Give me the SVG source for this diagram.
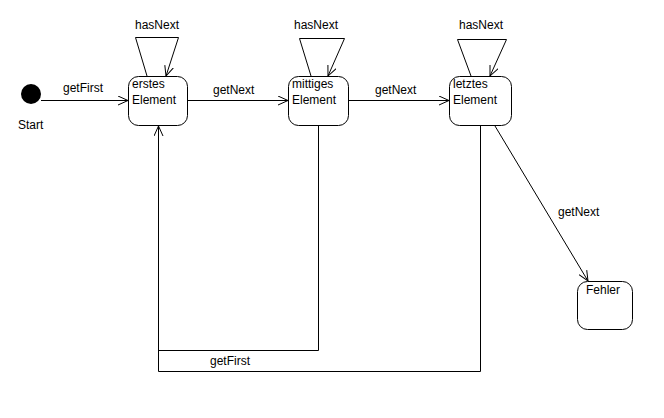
<svg xmlns="http://www.w3.org/2000/svg" width="664" height="418" viewBox="0 0 664 418">
<defs>
<marker id="open" viewBox="0 0 10 10" refX="10" refY="5" markerWidth="10" markerHeight="10" markerUnits="userSpaceOnUse" orient="auto">
<path d="M0,0.5 L10,5 L0,9.5" fill="none" stroke="#000" stroke-width="1"/>
</marker>
</defs>
<style>
.node{fill:#fff;stroke:#000;stroke-width:1}
.edge{fill:none;stroke:#000;stroke-width:1}
.arr{marker-end:url(#open)}
text{font-family:"Liberation Sans",Arial,sans-serif;font-size:12px;fill:#000}
</style>
<rect width="664" height="418" fill="#fff"/>
<g id="connectors">
<path class="edge arr" d="M41,100.5 L128,100.5"/>
<path class="edge arr" d="M187,100.5 L288,100.5"/>
<path class="edge arr" d="M348,100.5 L449,100.5"/>
<path class="edge arr" d="M147,76 L135.5,37.5 L178.5,37.5 L166,76"/>
<path class="edge arr" d="M311,76 L299.5,38.5 L344.5,38.5 L328,76"/>
<path class="edge arr" d="M471,76 L457.5,39.5 L506.5,39.5 L490,76"/>
<path class="edge" d="M318.5,126 L318.5,350.5 L158.5,350.5"/>
<path class="edge arr" d="M480.5,126 L480.5,371.5 L158.5,371.5 L158.5,126"/>
<path class="edge arr" d="M495,126 L588,281"/>
<text x="157" y="29" text-anchor="middle">hasNext</text>
<text x="316" y="29" text-anchor="middle">hasNext</text>
<text x="481" y="29" text-anchor="middle">hasNext</text>
<text x="63" y="92">getFirst</text>
<text x="213" y="94">getNext</text>
<text x="375" y="94">getNext</text>
<text x="558" y="216">getNext</text>
<text x="210" y="365">getFirst</text>
</g>
<g id="start">
<circle cx="31" cy="94" r="10" fill="#000"/>
<text x="18" y="129">Start</text>
</g>
<g id="erstes">
<rect class="node" x="128.5" y="76.5" width="59" height="49" rx="10"/>
<text x="132" y="88">erstes</text>
<text x="132" y="104">Element</text>
</g>
<g id="mittiges">
<rect class="node" x="288.5" y="76.5" width="60" height="49" rx="10"/>
<text x="292" y="88">mittiges</text>
<text x="292" y="104">Element</text>
</g>
<g id="letztes">
<rect class="node" x="449.5" y="76.5" width="62" height="49" rx="10"/>
<text x="453" y="88">letztes</text>
<text x="453" y="104">Element</text>
</g>
<g id="fehler">
<rect class="node" x="577.5" y="281.5" width="55" height="48" rx="10"/>
<text x="586" y="294">Fehler</text>
</g>
</svg>
